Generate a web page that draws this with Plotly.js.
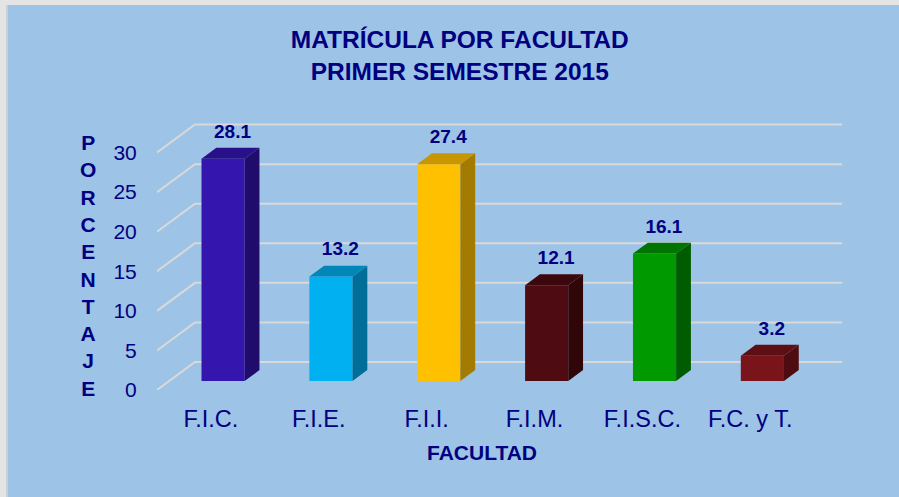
<!DOCTYPE html>
<html>
<head>
<meta charset="utf-8">
<script src="https://cdn.plot.ly/plotly-3.0.1.min.js"></script>
<style>
  html, body { margin: 0; padding: 0; width: 899px; height: 497px; background: #E4E4E4; overflow: hidden; }
  #chart { position: absolute; left: 8px; top: 5px; width: 891px; height: 492px; }
  #edge { position: absolute; left: 6px; top: 5px; width: 2px; height: 492px; background: #CFCFCF; }
</style>
</head>
<body>
<div id="edge"></div>
<div id="chart"></div>
<script>
// ---- data ----
const categories = ['F.I.C.', 'F.I.E.', 'F.I.I.', 'F.I.M.', 'F.I.S.C.', 'F.C. y T.'];
const values = [28.1, 13.2, 27.4, 12.1, 16.1, 3.2];
const yTicks = [0, 5, 10, 15, 20, 25, 30];
const frontColors = ['#3415AE', '#00B0F0', '#FFC000', '#4F0B12', '#009900', '#7A141B'];
const topColors   = ['#28108A', '#0087B8', '#C89600', '#3D080D', '#007400', '#5E0F14'];
const sideColors  = ['#200D6B', '#006E99', '#A37B00', '#300609', '#005C00', '#4E0B10'];

// ---- pseudo-3D projection (in axis units) ----
const DX = 0.352;   // x shift for full depth
const DY = 3.54;    // y shift for full depth
const z0 = 0.32, z1 = 0.71;  // bar depth span
const W = 0.4;      // bar width
const xo = z0 * DX, yo = z0 * DY;
const dDX = (z1 - z0) * DX, dDY = (z1 - z0) * DY;
const navy = '#000080';
const font = 'Liberation Sans, Arial, sans-serif';

const idx = categories.map((c, i) => i);
const traces = [];

// back wall grid + left wall diagonals (base axes)
const gx = [], gy = [];
yTicks.forEach(v => {
  gx.push(-0.5, -0.5 + DX, 5.5 + DX, null);
  gy.push(v, v + DY, v + DY, null);
});
traces.push({ type: 'scatter', mode: 'lines', x: gx, y: gy, xaxis: 'x', yaxis: 'y',
  line: { color: '#D9D9D9', width: 2 }, hoverinfo: 'skip', showlegend: false, cliponaxis: false });

// front faces as bars (overlay axes)
traces.push({ type: 'bar', x: idx.map(i => i + xo), y: values, base: values.map(() => yo),
  width: W, xaxis: 'x2', yaxis: 'y2',
  marker: { color: frontColors, line: { width: 0 } }, showlegend: false, hoverinfo: 'skip' });

// side and top faces
idx.forEach(i => {
  const v = values[i];
  const xl = i + xo - W / 2, xr = i + xo + W / 2;
  const b = yo, t = yo + v;
  traces.push({ type: 'scatter', mode: 'lines', fill: 'toself', xaxis: 'x2', yaxis: 'y2',
    x: [xr, xr, xr + dDX, xr + dDX, xr], y: [b, t, t + dDY, b + dDY, b],
    fillcolor: sideColors[i], line: { width: 0, color: sideColors[i] }, hoverinfo: 'skip', showlegend: false });
  traces.push({ type: 'scatter', mode: 'lines', fill: 'toself', xaxis: 'x2', yaxis: 'y2',
    x: [xl, xr, xr + dDX, xl + dDX, xl], y: [t, t, t + dDY, t + dDY, t],
    fillcolor: topColors[i], line: { width: 0, color: topColors[i] }, hoverinfo: 'skip', showlegend: false });
});

// value labels
traces.push({ type: 'scatter', mode: 'text', xaxis: 'x2', yaxis: 'y2', cliponaxis: false,
  x: idx.map(i => i + 0.2), y: values.map(v => v + 4.4), text: values.map(v => v.toFixed(1)),
  textposition: 'middle center',
  textfont: { family: font, size: 19, color: navy, weight: 'bold' }, hoverinfo: 'skip', showlegend: false });

const xr = [-0.5, 5.86], yr = [0, 35];
const layout = {
  width: 891, height: 492,
  margin: { l: 149, r: 891 - 149 - 686, t: 108, b: 107 },
  paper_bgcolor: '#9DC3E6', plot_bgcolor: 'rgba(0,0,0,0)',
  showlegend: false,
  title: { text: 'MATRÍCULA POR FACULTAD<br>PRIMER SEMESTRE 2015',
    font: { family: font, size: 24.5, color: navy, weight: 'bold' },
    xref: 'container', x: 0.507, xanchor: 'center', yref: 'container', y: 0.912, yanchor: 'middle' },
  xaxis: { range: xr, tickvals: idx, ticktext: categories, showgrid: false, zeroline: false, showline: false,
    ticks: 'outside', ticklen: 8, tickcolor: 'rgba(0,0,0,0)',
    tickfont: { family: font, size: 23.5, color: navy }, fixedrange: true },
  yaxis: { range: yr, tickvals: yTicks, showgrid: false, zeroline: false, showline: false,
    ticks: 'outside', ticklen: 15, tickcolor: 'rgba(0,0,0,0)',
    tickfont: { family: font, size: 21, color: navy }, fixedrange: true },
  xaxis2: { range: xr, overlaying: 'x', visible: false, fixedrange: true },
  yaxis2: { range: yr, overlaying: 'y', visible: false, fixedrange: true },
  annotations: [
    { text: 'FACULTAD', xref: 'paper', yref: 'paper', x: 0.4738, y: -0.2274, xanchor: 'center', yanchor: 'middle',
      showarrow: false, font: { family: font, size: 21, color: navy, weight: 'bold' } },
    { text: 'PORCENTAJE'.split('').join('<br>'), xref: 'paper', yref: 'paper', x: -0.1006, y: 0.4477,
      xanchor: 'center', yanchor: 'middle', showarrow: false, align: 'center',
      font: { family: font, size: 21, color: navy, weight: 'bold' } }
  ]
};

Plotly.newPlot('chart', traces, layout, { displayModeBar: false, staticPlot: true });
</script>
</body>
</html>
